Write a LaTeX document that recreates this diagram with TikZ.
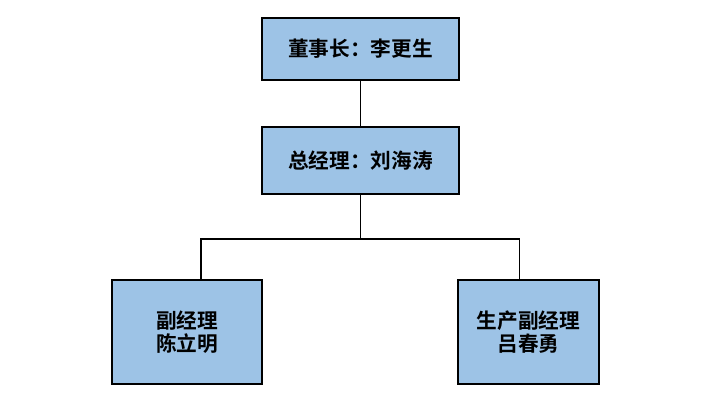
\documentclass[tikz,border=0pt]{standalone}
\usepackage{fontspec}
\newfontfamily\cjk{Noto Sans CJK SC}[BoldFont={Noto Sans CJK SC Bold}]
\usetikzlibrary{positioning}
\definecolor{boxblue}{HTML}{9DC3E6}
\begin{document}
\begin{tikzpicture}[x=0.75pt,y=-0.75pt,
  orgbox/.style={draw=black,line width=0.9pt,fill=boxblue,inner sep=0pt,align=center,
     font=\cjk\bfseries\fontsize{15.5pt}{17.5pt}\selectfont},
  link/.style={draw=black,line width=0.8pt}]
\useasboundingbox (0,0) rectangle (704,420);
\node[orgbox,minimum width=147.75pt,minimum height=46.5pt] (top) at (360.5,49) {董事长：李更生};
\node[orgbox,minimum width=147.75pt,minimum height=50.25pt] (mid) at (360.5,160.5) {总经理：刘海涛};
\node[orgbox,minimum width=112.5pt,minimum height=78pt] (bl) at (187,332) {副经理\\陈立明};
\node[orgbox,minimum width=105.75pt,minimum height=78pt] (br) at (528.5,332) {生产副经理\\吕春勇};
\coordinate (bus) at (360.5,239);
\draw[link] (top.south) -- (mid.north);
\draw[link] (mid.south) -- (bus);
\draw[link] ([xshift=10.5pt]bl.north) |- (bus) -| ([xshift=-7.1pt]br.north);
\end{tikzpicture}
\end{document}
